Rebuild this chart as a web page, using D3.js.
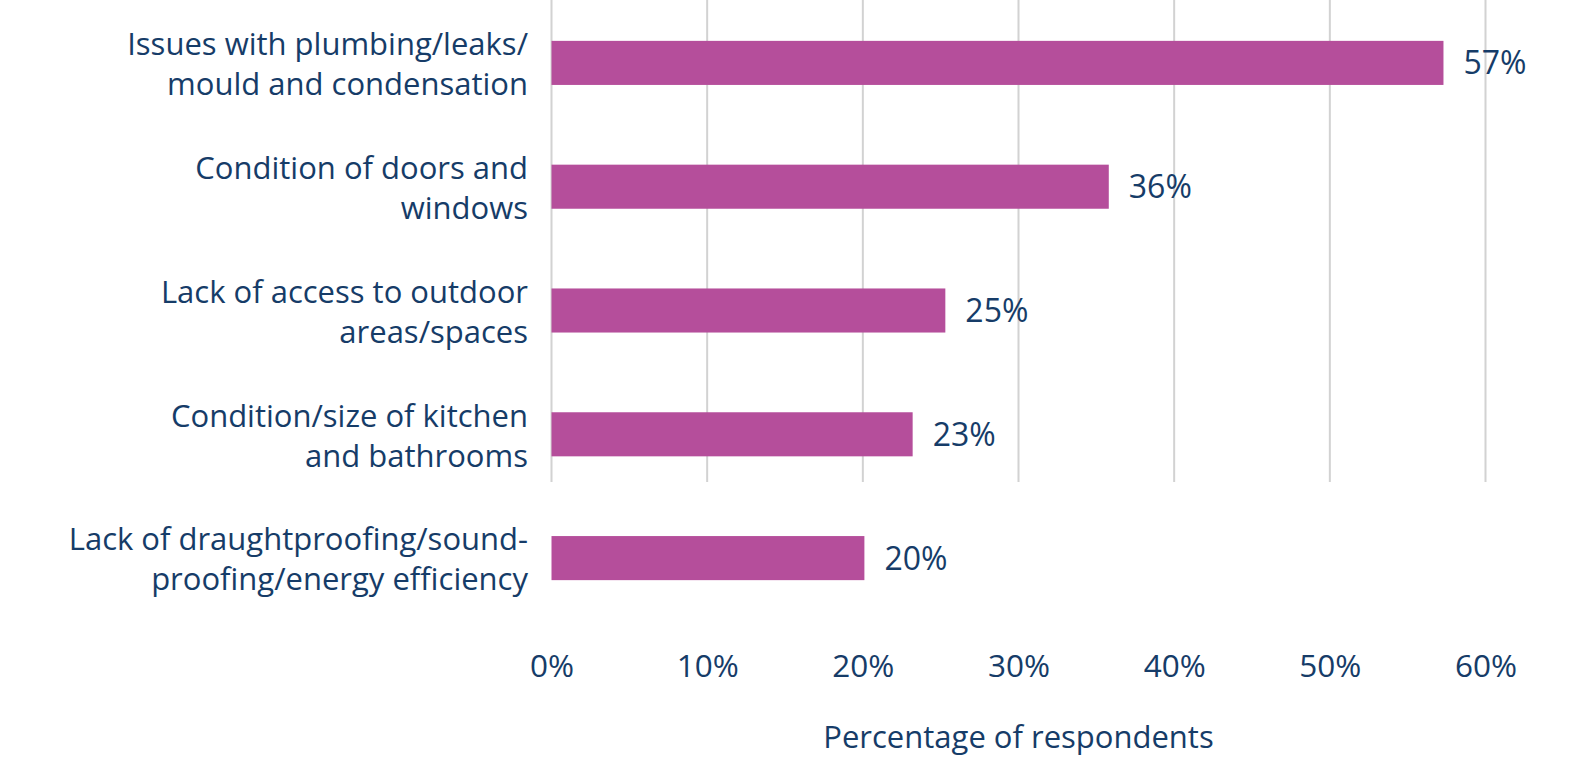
<!DOCTYPE html>
<html>
<head>
<meta charset="utf-8">
<script src="https://cdn.jsdelivr.net/npm/d3@7"></script>
<style>
  body { margin: 0; background: #fff; }
  text { font-family: "Open Sans", sans-serif; fill: #163c68; }
</style>
</head>
<body>
<div id="chart"></div>
<script>
// Chart data
var categories = [
  ["Issues with plumbing/leaks/", "mould and condensation"],
  ["Condition of doors and", "windows"],
  ["Lack of access to outdoor", "areas/spaces"],
  ["Condition/size of kitchen", "and bathrooms"],
  ["Lack of draughtproofing/sound-", "proofing/energy efficiency"]
];
var values = [57.3, 35.8, 25.3, 23.2, 20.1];
var valueLabels = ["57%", "36%", "25%", "23%", "20%"];
var ticks = [0, 10, 20, 30, 40, 50, 60];

// SVG specs
var svgWidth = 1591;
var svgHeight = 764;

var svg = d3.select("#chart")
  .append("svg")
  .attr("width", svgWidth)
  .attr("height", svgHeight);

var keys = categories.map(function(c, i) { return i; });

// Scales
var xScale = d3.scaleLinear()
  .domain([0, 60])
  .range([551.5, 1485.5]);

var yScale = d3.scaleBand()
  .domain(keys)
  .range([1, 620])
  .paddingInner(0.644)
  .paddingOuter(0.322);

// Gridlines
svg.append("g")
  .selectAll("line")
  .data(ticks)
  .enter()
  .append("line")
  .attr("x1", d => xScale(d))
  .attr("x2", d => xScale(d))
  .attr("y1", 0)
  .attr("y2", 482)
  .attr("stroke", "#d2d2d2")
  .attr("stroke-width", 2);

// Bars
svg.append("g")
  .selectAll("rect")
  .data(values)
  .enter()
  .append("rect")
  .attr("x", xScale(0))
  .attr("y", (d, i) => yScale(i))
  .attr("width", d => xScale(d) - xScale(0))
  .attr("height", yScale.bandwidth())
  .attr("fill", "#b54e9b");

// Value labels
svg.append("g")
  .selectAll("text")
  .data(values)
  .enter()
  .append("text")
  .attr("x", d => xScale(d) + 20)
  .attr("y", (d, i) => yScale(i) + yScale.bandwidth() / 2 + 11.5)
  .attr("font-size", "32px")
  .text((d, i) => valueLabels[i]);

// Category labels (two lines each)
var catGroup = svg.append("g")
  .selectAll("text")
  .data(categories)
  .enter()
  .append("text")
  .attr("text-anchor", "end")
  .attr("font-size", "31px")
  .attr("y", (d, i) => yScale(i) + yScale.bandwidth() / 2);

catGroup.selectAll("tspan")
  .data(d => d)
  .enter()
  .append("tspan")
  .attr("x", 528)
  .attr("dy", (d, j) => j === 0 ? -7.7 : 40)
  .text(d => d);

// X axis tick labels
var xAxis = d3.axisBottom(xScale)
  .tickValues(ticks)
  .tickSize(0)
  .tickPadding(0)
  .tickFormat(d => d + "%");

svg.append("g")
  .attr("transform", "translate(0, 655)")
  .call(xAxis)
  .call(g => g.select(".domain").remove())
  .selectAll("text")
  .attr("font-size", "31.5px")
  .attr("fill", "#163c68")
  .attr("dy", "0.71em")
  .style("font-family", "'Open Sans', sans-serif");

// Axis title
svg.append("text")
  .attr("x", (xScale(0) + xScale(60)) / 2)
  .attr("y", 748)
  .attr("text-anchor", "middle")
  .attr("font-size", "31px")
  .text("Percentage of respondents");
</script>
</body>
</html>
